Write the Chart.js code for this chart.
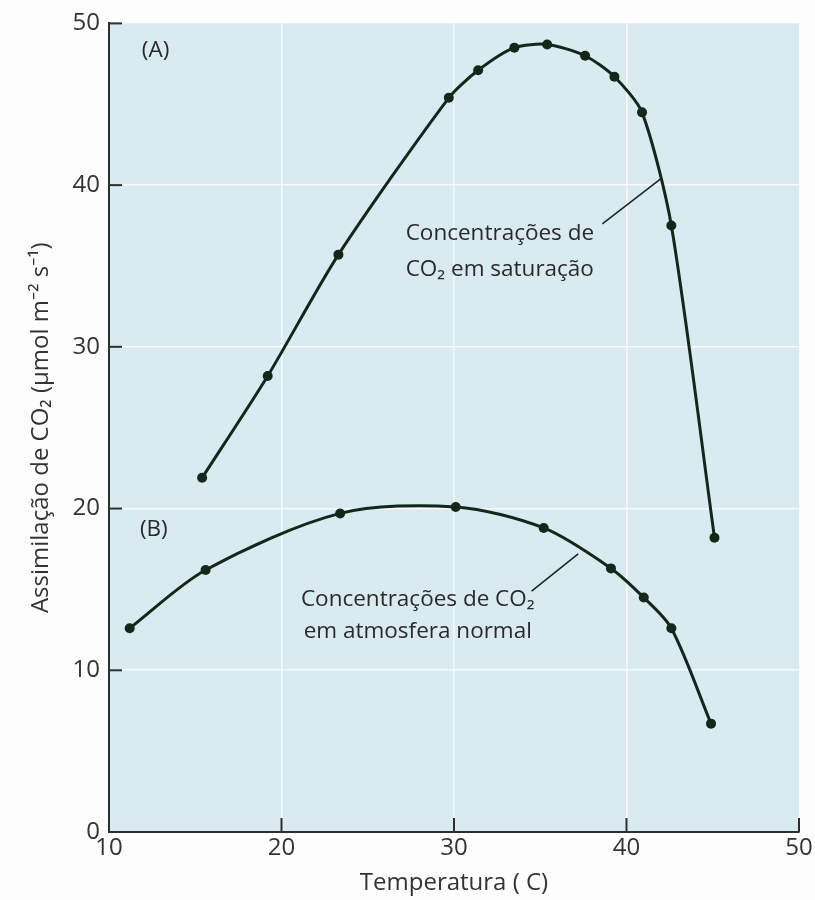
<!DOCTYPE html>
<html>
<head>
<meta charset="utf-8">
<script src="https://cdn.jsdelivr.net/npm/chart.js@4.4.1/dist/chart.umd.min.js"></script>
<style>
  html, body { margin: 0; padding: 0; background: #fdfdfd; }
  #wrap { width: 815px; height: 900px; }
</style>
</head>
<body>
<div id="wrap"><canvas id="myChart" width="815" height="900"></canvas></div>
<script>
// temperature (C) and CO2 assimilation
var tempA = [15.4, 19.2, 23.3, 29.7, 31.4, 33.5, 35.4, 37.6, 39.3, 40.9, 42.6, 45.1];
var assimA = [21.9, 28.2, 35.7, 45.4, 47.1, 48.5, 48.7, 48.0, 46.7, 44.5, 37.5, 18.2];

var tempB = [11.2, 15.6, 23.4, 30.1, 35.2, 39.1, 41.0, 42.6, 44.9];
var assimB = [12.6, 16.2, 19.7, 20.1, 18.8, 16.3, 14.5, 12.6, 6.7];

var xTicks = [10, 20, 30, 40, 50];
var yTicks = [0, 10, 20, 30, 40, 50];

var lineColor = '#12281b';
var axisColor = '#2e2e2e';
var fontName = "'Open Sans', 'Noto Sans', sans-serif";

function toPoints(xs, ys){
  var pts = [];
  for(var i = 0; i < xs.length; i++){
    pts.push({x: xs[i], y: ys[i]});
  }
  return pts;
}

// labels placed in data units
var notes = [
  {text: '(A)', x: 12.7, y: 48.3, align: 'center'},
  {text: '(B)', x: 12.6, y: 18.7, align: 'center'},
  {text: 'Concentrações de', x: 27.2, y: 37.0, align: 'left'},
  {text: 'CO₂ em saturação', x: 27.2, y: 34.8, align: 'left'},
  {text: 'Concentrações de CO₂', x: 27.9, y: 14.4, align: 'center'},
  {text: 'em atmosfera normal', x: 27.9, y: 12.4, align: 'center'}
];
var leaders = [
  [38.6, 37.6, 42.0, 40.4],
  [34.5, 14.9, 37.2, 17.2]
];

var paperPlugin = {
  id: 'paper',
  beforeDraw: function(chart){
    var c = chart.ctx, a = chart.chartArea;
    c.save();
    c.fillStyle = '#d9eaf0';
    c.fillRect(a.left, a.top, a.right - a.left, a.bottom - a.top);
    c.restore();
  },
  afterDraw: function(chart){
    var c = chart.ctx, a = chart.chartArea;
    var xs = chart.scales.x, ys = chart.scales.y;
    c.save();
    // inward tick marks
    c.strokeStyle = axisColor;
    c.lineWidth = 2;
    yTicks.forEach(function(v){
      var py = ys.getPixelForValue(v);
      c.beginPath(); c.moveTo(a.left, py); c.lineTo(a.left + 13, py); c.stroke();
    });
    xTicks.forEach(function(v){
      var px = xs.getPixelForValue(v);
      c.beginPath(); c.moveTo(px, a.bottom); c.lineTo(px, a.bottom - 14); c.stroke();
    });
    // leader lines
    c.strokeStyle = '#1d2a22';
    c.lineWidth = 1.6;
    leaders.forEach(function(l){
      c.beginPath();
      c.moveTo(xs.getPixelForValue(l[0]), ys.getPixelForValue(l[1]));
      c.lineTo(xs.getPixelForValue(l[2]), ys.getPixelForValue(l[3]));
      c.stroke();
    });
    // text labels
    c.fillStyle = '#2a2a2a';
    c.font = '22.5px ' + fontName;
    c.textBaseline = 'middle';
    notes.forEach(function(n){
      c.textAlign = n.align;
      c.fillText(n.text, xs.getPixelForValue(n.x), ys.getPixelForValue(n.y));
    });
    c.restore();
  }
};

function gridColor(edgeVals){
  return function(ctx){
    if(ctx.tick && edgeVals.indexOf(ctx.tick.value) >= 0){
      return 'rgba(0,0,0,0)';
    }
    return 'rgba(255,255,255,0.75)';
  };
}

window.onload = function(){
  var ctx = document.getElementById('myChart').getContext('2d');

  new Chart(ctx, {
    type: 'line',
    data: {
      datasets: [
        {
          label: 'Concentrações de CO₂ em saturação',
          data: toPoints(tempA, assimA),
          borderColor: lineColor,
          backgroundColor: lineColor,
          borderWidth: 3,
          pointRadius: 5,
          pointBorderWidth: 0,
          tension: 0.25,
          fill: false
        },
        {
          label: 'Concentrações de CO₂ em atmosfera normal',
          data: toPoints(tempB, assimB),
          borderColor: lineColor,
          backgroundColor: lineColor,
          borderWidth: 3,
          pointRadius: 5,
          pointBorderWidth: 0,
          tension: 0.3,
          fill: false
        }
      ]
    },
    options: {
      responsive: false,
      animation: false,
      layout: {padding: {top: 19, right: 16, left: 0, bottom: 0}},
      plugins: {
        legend: {display: false},
        tooltip: {enabled: false}
      },
      scales: {
        x: {
          type: 'linear',
          min: 10,
          max: 50,
          afterBuildTicks: function(s){ s.ticks = xTicks.map(function(v){ return {value: v}; }); },
          afterFit: function(s){ s.height = 68; },
          grid: {color: gridColor([10, 50]), lineWidth: 1.6, drawTicks: false},
          border: {display: true, color: axisColor, width: 2},
          ticks: {color: '#333', font: {family: fontName, size: 24}, padding: 2},
          title: {
            display: true,
            text: 'Temperatura ( C)',
            color: '#333',
            font: {family: fontName, size: 24},
            padding: {top: 0, bottom: 2}
          }
        },
        y: {
          min: 0,
          max: 50,
          afterBuildTicks: function(s){ s.ticks = yTicks.map(function(v){ return {value: v}; }); },
          afterFit: function(s){ s.width = 109; },
          grid: {color: gridColor([0, 50]), lineWidth: 1.6, drawTicks: false},
          border: {display: true, color: axisColor, width: 2},
          ticks: {color: '#333', font: {family: fontName, size: 24}, padding: 9},
          title: {
            display: true,
            text: 'Assimilação de CO₂ (μmol m⁻² s⁻¹)',
            color: '#333',
            font: {family: fontName, size: 24},
            padding: {top: 27, bottom: 0}
          }
        }
      }
    },
    plugins: [paperPlugin]
  });
};
</script>
</body>
</html>
